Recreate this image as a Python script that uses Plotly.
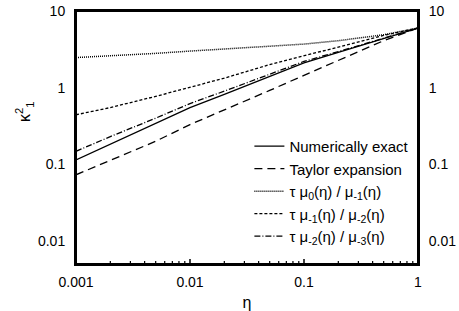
import math
import plotly.graph_objects as go

eta = [0.001, 0.002, 0.005, 0.01, 0.02, 0.05, 0.1, 0.2, 0.5, 1.0]
numerically_exact = [0.114, 0.183, 0.34, 0.55, 0.82, 1.40, 2.1, 2.88, 4.37, 6.0]
taylor_expansion = [0.073, 0.113, 0.20, 0.33, 0.51, 0.92, 1.45, 2.28, 4.1, 6.0]
mu0_mu_1 = [2.47, 2.6, 2.8, 3.0, 3.2, 3.45, 3.7, 4.1, 4.9, 6.0]
mu_1_mu_2 = [0.443, 0.55, 0.77, 1.02, 1.33, 2.0, 2.6, 3.4, 4.8, 6.0]
mu_2_mu_3 = [0.148, 0.23, 0.40, 0.62, 0.9, 1.5, 2.2, 2.95, 4.4, 6.0]

y_title = "κ<sup>2</sup><sub>1</sub>"
x_title = "η"

series = [
    ("Numerically exact", numerically_exact, "solid", 1.3),
    ("Taylor expansion", taylor_expansion, "8px,5px", 1.3),
    ("τ μ<sub>0</sub>(η) / μ<sub>-1</sub>(η)", mu0_mu_1, "1px,1px", 1.5),
    ("τ μ<sub>-1</sub>(η) / μ<sub>-2</sub>(η)", mu_1_mu_2, "3px,2px", 1.3),
    ("τ μ<sub>-2</sub>(η) / μ<sub>-3</sub>(η)", mu_2_mu_3, "6px,2px,1px,2px", 1.3),
]

xr = [-3, 0]
yr = [-2.3, 1]
x_major = [0.001, 0.01, 0.1, 1]
y_major = [0.01, 0.1, 1, 10]
x_minor = [m * 10.0 ** k for k in (-3, -2, -1) for m in range(2, 10)]
y_minor = [m * 10.0 ** k for k in (-3, -2, -1, 0) for m in range(2, 10) if m * 10.0 ** k >= 0.005]

W, H = 459, 311
ML, MR, MT, MB = 76, 41, 11, 47
px_per_dec_x = (W - ML - MR) / (xr[1] - xr[0])
px_per_dec_y = (H - MT - MB) / (yr[1] - yr[0])

fig = go.Figure()
for name, vals, dash, w in series:
    fig.add_trace(go.Scatter(x=eta, y=vals, mode="lines", name=name,
                             line=dict(color="black", width=w, dash=dash)))
fig.add_trace(go.Scatter(x=eta, y=numerically_exact, xaxis="x", yaxis="y2", mode="lines",
                         showlegend=False, hoverinfo="skip",
                         line=dict(color="rgba(0,0,0,0)", width=0)))

# tick marks drawn as line markers (length = 1.4 * size)
def tick_trace(xs, ys, symbol, length, width):
    return go.Scatter(x=xs, y=ys, mode="markers", showlegend=False, hoverinfo="skip",
                      cliponaxis=False,
                      marker=dict(symbol=symbol, size=length / 1.4, color="black",
                                  line=dict(color="black", width=width)))

for vals, ln, w in ((y_major, 5, 1.5), (y_minor, 3, 1.2)):
    left_x = 10 ** (xr[0] - (ln / 2) / px_per_dec_x)
    right_x = 10 ** (xr[1] + (ln / 2) / px_per_dec_x)
    fig.add_trace(tick_trace([left_x] * len(vals), vals, "line-ew", ln, w))
    fig.add_trace(tick_trace([right_x] * len(vals), vals, "line-ew", ln, w))
for vals, ln, w in ((x_major, 5, 1.5), (x_minor, 3, 1.2)):
    bot_y = 10 ** (yr[0] + (ln / 2) / px_per_dec_y)
    fig.add_trace(tick_trace(vals, [bot_y] * len(vals), "line-ns", ln, w))

fam = "Liberation Sans, Arial, sans-serif"
font = dict(family=fam, size=14, color="black")
common = dict(type="log", showgrid=False, zeroline=False, automargin=False, ticks="")
fig.update_layout(
    template="none",
    width=W, height=H,
    margin=dict(l=ML, r=MR, t=MT, b=MB, pad=0),
    paper_bgcolor="white", plot_bgcolor="white",
    font=font,
    showlegend=True,
    legend=dict(x=0.507, y=0.53, xanchor="left", yanchor="top",
                bgcolor="rgba(0,0,0,0)", font=dict(size=15, family=fam),
                tracegroupgap=0, itemwidth=30),
    xaxis=dict(**common, range=xr, dtick=1, ticklabelstandoff=4,
               showline=True, linecolor="black", linewidth=2, mirror=True,
               title=dict(text=x_title, font=dict(size=16), standoff=10)),
    yaxis=dict(**common, range=yr, dtick=1, ticklabelstandoff=6,
               showline=True, linecolor="black", linewidth=2, mirror=True),
    yaxis2=dict(**common, range=yr, dtick=1, overlaying="y", side="right", anchor="x",
                ticklabelstandoff=6,
                showline=True, linecolor="black", linewidth=2),
    shapes=[dict(type="rect", xref="paper", yref="paper", x0=0, x1=1, y0=0, y1=1,
                 line=dict(color="black", width=2), fillcolor="rgba(0,0,0,0)")],
    annotations=[dict(text=y_title, xref="paper", yref="paper", x=-0.15, y=0.6,
                      xanchor="center", yanchor="middle", textangle=-90,
                      showarrow=False, font=dict(size=16, family=fam))],
)

fig.write_html("out.html", config={"displayModeBar": False},
               post_script="document.body.style.margin='0';")
